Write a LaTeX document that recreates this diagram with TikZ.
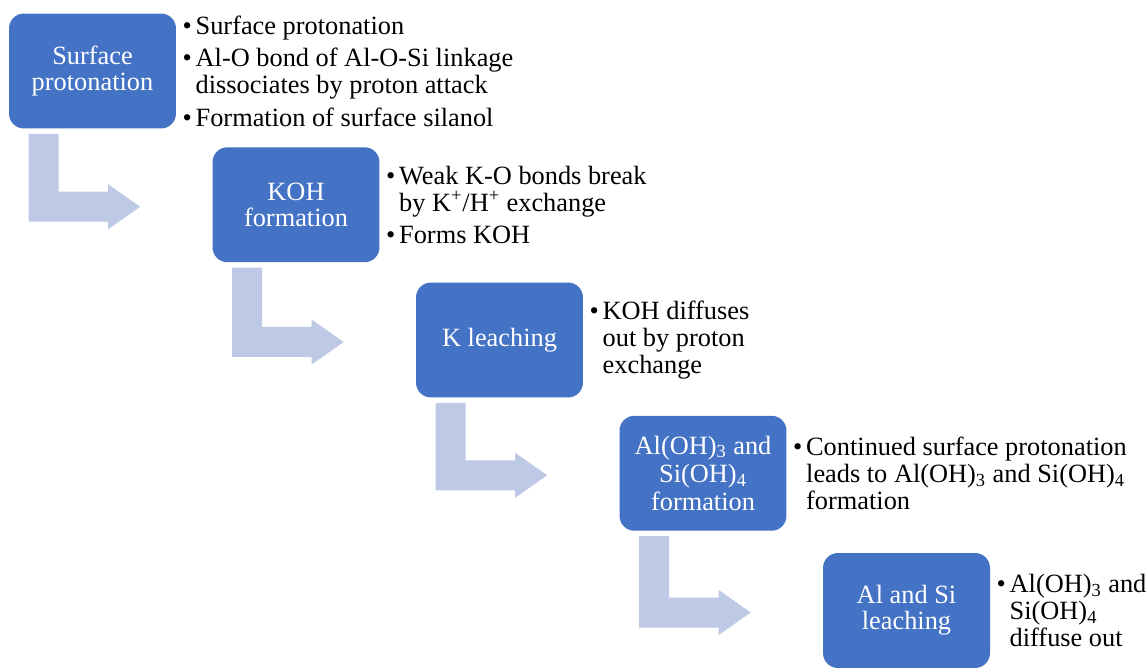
\documentclass[tikz,border=0pt]{standalone}
\usepackage{fontspec}
\setmainfont{Liberation Serif}
\usetikzlibrary{calc}

\definecolor{stageblue}{RGB}{68,114,196}
\definecolor{arrowblue}{RGB}{189,201,229}
\newcommand{\bul}{\makebox[7.4pt][l]{\textbullet}}
\newcommand{\ind}{\hspace*{7.4pt}}

\begin{document}
\begin{tikzpicture} [x=0.02cm, y=-0.02cm,
  stage/.style={fill=stageblue, rounded corners=8.5pt, minimum width=3.34cm, minimum height=2.3cm,
    align=center, text=white, inner sep=0, font=\fontsize{15}{15}\selectfont},
  notes/.style={anchor=west, align=left, inner sep=0, xshift=3.4pt, font=\fontsize{15}{15.4}\selectfont},
  bendarrow/.style={fill=arrowblue}]
\useasboundingbox (0,0) rectangle (1148,668);
% stages
\node[stage] (s1) at (92.5,71) {Surface\\protonation};
\node[stage] (s2) at (296,204.75) {KOH\\formation};
\node[stage] (s3) at (499.5,340) {K leaching};
\node[stage] (s4) at (703,473.25) {Al(OH)\textsubscript{3} and\\[1pt]Si(OH)\textsubscript{4}\\[1pt]formation};
\node[stage] (s5) at (906.5,610.5) {Al and Si\\leaching};
% notes
\node[notes] (t1) at (s1.east) {\bul Surface protonation\\[3pt]
  \bul Al-O bond of Al-O-Si linkage\\ \ind dissociates by proton attack\\[3pt]
  \bul Formation of surface silanol};
\node[notes] (t2) at (s2.east) {\bul Weak K-O bonds break\\
  \ind by K\textsuperscript{+}/H\textsuperscript{+} exchange\\[3pt] \bul Forms KOH};
\node[notes] (t3) at (s3.east) {\bul KOH diffuses\\ \ind out by proton\\ \ind exchange};
\node[notes] (t4) at (s4.east) {\bul Continued surface protonation\\
  \ind leads to Al(OH)\textsubscript{3} and Si(OH)\textsubscript{4}\\ \ind formation};
\node[notes] (t5) at (s5.east) {\bul Al(OH)\textsubscript{3} and\\ \ind Si(OH)\textsubscript{4}\\ \ind diffuse out};
% bent arrows
\foreach \a/\b in {s1/s2, s2/s3, s3/s4, s4/s5} {
 \coordinate (p) at ($(\a.south west)+(20,5)$);
 \coordinate (q) at ($(\b.west)+(-72,2)$);
 \fill[bendarrow] (p) -- ++(30,0) |- ($(q)+(-32,-15)$) -- ++(0,-7.5) -- (q)
   -- ++(-32,22.5) -- ++(0,-7.5) -| (p) -- cycle;
}
\end{tikzpicture}
\end{document}
